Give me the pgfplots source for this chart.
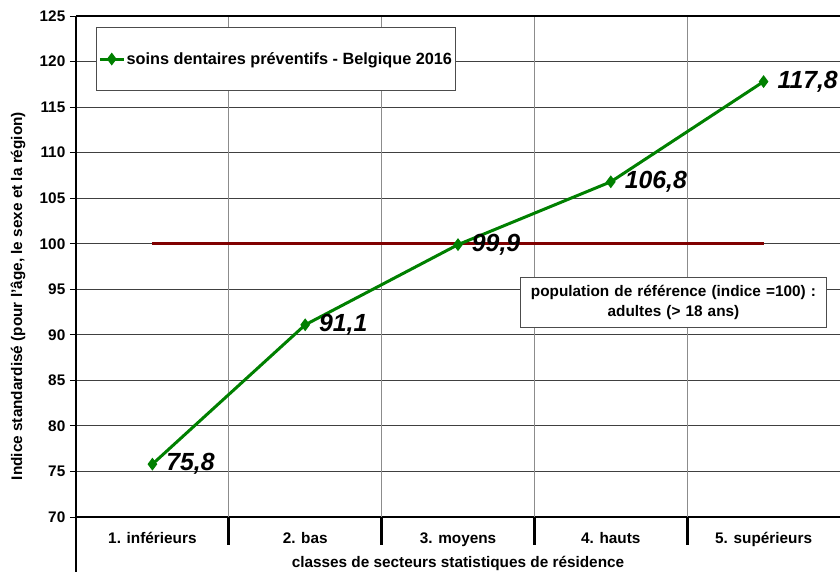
\documentclass[border=0pt]{standalone}
\usepackage{fontspec}
\setmainfont{Liberation Sans}
\usepackage{pgfplots}
\pgfplotsset{compat=1.18}
\definecolor{dgreen}{RGB}{0,128,0}
\definecolor{dred}{RGB}{128,0,0}
\begin{document}
\begin{tikzpicture}
\begin{axis}[
  scale only axis, width=573pt, height=375.75pt,
  xmin=-0.5, xmax=4.5, ymin=70, ymax=125,
  clip=false,
  axis x line*=bottom, axis y line*=left,
  axis line style={line width=2pt, -},
  ytick={70,75,...,125},
  xtick={0,1,2,3,4},
  xticklabels={1. inférieurs, 2. bas, 3. moyens, 4. hauts, 5. supérieurs},
  extra x ticks={0.5,1.5,2.5,3.5},
  extra x tick labels={},
  extra x tick style={grid=major, major grid style={black!45, line width=0.9pt}, xtick style={draw=none}},
  ymajorgrids, major grid style={black!75, line width=0.7pt},
  xtick style={draw=none},
  ytick style={black, line width=0.7pt},
  tick align=outside, major tick length=4.5pt,
  /pgf/number format/assume math mode=true,
  tick label style={font=\bfseries\fontsize{11.5}{13}\selectfont},
  xticklabel style={anchor=base, yshift=-15.3pt},
  xlabel={classes de secteurs statistiques de résidence},
  xlabel style={at={(rel axis cs:0.5,-0.0918)}, anchor=center, font=\bfseries\fontsize{11.5}{13}\selectfont},
  ylabel={Indice standardisé (pour l'âge, le sexe et la région)},
  ylabel style={at={(rel axis cs:-0.0759,0.441)}, anchor=center, font=\bfseries\fontsize{11.5}{13}\selectfont},
  legend style={at={(rel axis cs:0.026,0.978)}, anchor=north west, draw=black!70, line width=0.6pt,
    inner xsep=1.5pt, inner ysep=16.5pt, font=\bfseries\fontsize{12.2}{14}\selectfont,
    nodes={inner xsep=1pt}},
  legend image code/.code={\draw[mark repeat=2,mark phase=2] plot coordinates {(0pt,0pt) (9pt,0pt) (18pt,0pt)};},
]
\addplot[dred, line width=2.25pt, forget plot] coordinates {(0,100) (4,100)};
\addplot[dgreen, line width=2.25pt, mark=diamond*, mark size=3pt, mark options={solid},
  nodes near coords, point meta=explicit symbolic,
  nodes near coords style={anchor=west, xshift=6pt, text=black, font=\bfseries\itshape\fontsize{18.6}{20}\selectfont}]
  coordinates {(0,75.8) [75,8] (1,91.1) [91,1] (2,99.9) [99,9] (3,106.8) [106,8] (4,117.8) [117,8]};
\addlegendentry{soins dentaires préventifs - Belgique 2016}
\draw[line width=1.5pt] (axis cs:-0.5,125) -- (axis cs:4.5,125);
\draw[line width=2pt] (axis cs:-0.5,70) -- ([yshift=-41.25pt]axis cs:-0.5,70);
\draw[line width=2pt] (axis cs:0.5,70) -- ([yshift=-21pt]axis cs:0.5,70);
\draw[line width=2pt] (axis cs:1.5,70) -- ([yshift=-21pt]axis cs:1.5,70);
\draw[line width=2pt] (axis cs:2.5,70) -- ([yshift=-21pt]axis cs:2.5,70);
\draw[line width=2pt] (axis cs:3.5,70) -- ([yshift=-21pt]axis cs:3.5,70);
\node[draw=black!70, line width=0.6pt, fill=white, text width=226pt, align=center, minimum height=38pt,
  inner sep=2pt, font=\bfseries\fontsize{11.5}{15.5}\selectfont] at (axis cs:3.41,93.55)
  {population de référence (indice =100) :\\ adultes (> 18 ans)};
\end{axis}
\pgfresetboundingbox
\path[use as bounding box] ([xshift=-57pt,yshift=-41.25pt]current axis.south west) rectangle ([yshift=12pt]current axis.north east);
\end{tikzpicture}
\end{document}
